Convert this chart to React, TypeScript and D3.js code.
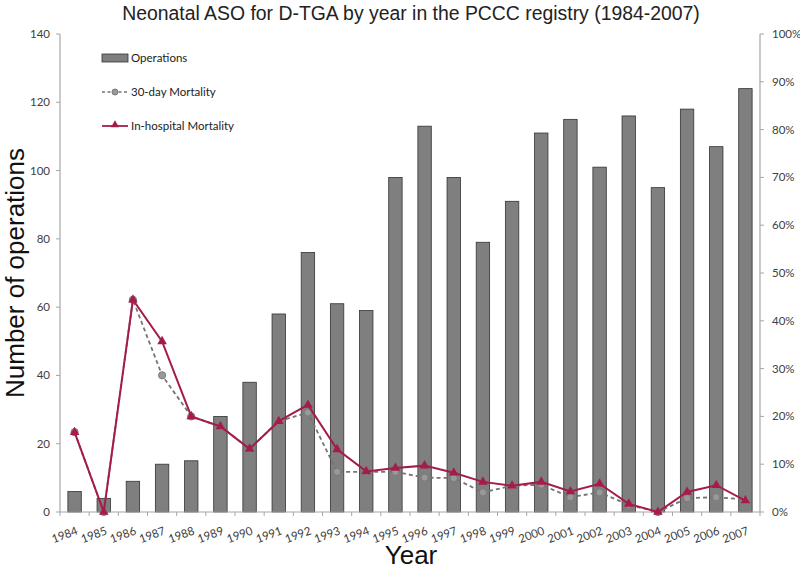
import React from "react";
import * as d3 from "d3";

const years = ["1984","1985","1986","1987","1988","1989","1990","1991","1992","1993","1994","1995","1996","1997","1998","1999","2000","2001","2002","2003","2004","2005","2006","2007"];
const operations = [6,4,9,14,15,28,38,58,76,61,59,98,113,98,79,91,111,115,101,116,95,118,107,124];
const mortality30 = [16.7,0,44.4,28.6,20,17.9,13.2,19,20.8,8.4,8.4,8.4,7.2,7.1,4.1,5.5,5.7,3.1,4.1,1.5,0,2.9,3.1,2.6];
const mortalityHosp = [16.7,0,44.4,35.7,20,17.9,13.2,19,22.4,13.1,8.5,9.2,9.7,8.2,6.3,5.5,6.3,4.3,5.9,1.7,0,4.2,5.6,2.4];
const leftTicks = [0,20,40,60,80,100,120,140];
const rightTicks = [0,10,20,30,40,50,60,70,80,90,100];

const W = 800, H = 569;
const M = { left: 60, right: 760, top: 34, bottom: 512 };
const RED = "#a51c4c";
const GRAY_LINE = "#747474";
const AXIS = "#a6a6a6";
const TXT = "#404040";
const tickFont = "Lato, 'Open Sans', sans-serif";

export default function App() {
  const x = d3.scaleBand<string>().domain(years).range([M.left, M.right]).paddingInner(0).paddingOuter(0);
  const yL = d3.scaleLinear().domain([0, 140]).range([M.bottom, M.top]);
  const yR = d3.scaleLinear().domain([0, 100]).range([M.bottom, M.top]);
  const bw = x.bandwidth() * 0.46;
  const cx = (y: string) => (x(y) as number) + x.bandwidth() / 2;

  const line30 = d3.line<number>().x((_, i) => cx(years[i])).y((d) => yR(d));
  const lineH = d3.line<number>().x((_, i) => cx(years[i])).y((d) => yR(d));
  const tri = d3.symbol().type(d3.symbolTriangle).size(40)();
  const boundaries = d3.range(years.length + 1).map((i) => M.left + i * x.bandwidth());

  return (
    <svg width={W} height={H} style={{ position: "absolute", left: 0, top: 0, background: "#fff" }}>
      <rect width={W} height={H} fill="#fff" />
      <text x={411} y={20} textAnchor="middle" fontFamily="'Liberation Sans', Arial, sans-serif" fontSize={19.4} fill="#222">
        Neonatal ASO for D-TGA by year in the PCCC registry (1984-2007)
      </text>

      {/* bars */}
      {operations.map((v, i) => (
        <rect key={years[i]} x={cx(years[i]) - bw / 2} y={yL(v)} width={bw} height={yL(0) - yL(v)} fill="#7f7f7f" stroke="#333" strokeWidth={0.8} />
      ))}

      {/* axes */}
      <line x1={M.left} x2={M.left} y1={M.top} y2={M.bottom} stroke={AXIS} strokeWidth={1.2} />
      <line x1={M.right} x2={M.right} y1={M.top} y2={M.bottom} stroke={AXIS} strokeWidth={1.2} />
      <line x1={M.left} x2={M.right} y1={M.bottom} y2={M.bottom} stroke={AXIS} strokeWidth={1.2} />
      {leftTicks.map((t) => (
        <g key={"l" + t}>
          <line x1={M.left - 4} x2={M.left} y1={yL(t)} y2={yL(t)} stroke={AXIS} />
          <text x={M.left - 10} y={yL(t) + 4} textAnchor="end" fontFamily={tickFont} fontSize={11.5} fill={TXT}>{t}</text>
        </g>
      ))}
      {rightTicks.map((t) => (
        <g key={"r" + t}>
          <line x1={M.right} x2={M.right + 4} y1={yR(t)} y2={yR(t)} stroke={AXIS} />
          <text x={M.right + 12} y={yR(t) + 4} textAnchor="start" fontFamily={tickFont} fontSize={11.5} fill={TXT}>{t + "%"}</text>
        </g>
      ))}
      {boundaries.map((b, i) => (
        <line key={"b" + i} x1={b} x2={b} y1={M.bottom} y2={M.bottom + 4} stroke={AXIS} />
      ))}
      {years.map((y) => (
        <text key={"x" + y} transform={`translate(${cx(y) + 4},${M.bottom + 22}) rotate(-20)`} textAnchor="end" fontFamily={tickFont} fontSize={11.5} fill={TXT}>{y}</text>
      ))}

      {/* lines */}
      <path d={line30(mortality30) || ""} fill="none" stroke={GRAY_LINE} strokeWidth={1.8} strokeDasharray="4,3" />
      {mortality30.map((v, i) => (
        <circle key={"c" + i} cx={cx(years[i])} cy={yR(v)} r={3.6} fill="#999" stroke="#7a7a7a" strokeWidth={1} />
      ))}
      <path d={lineH(mortalityHosp) || ""} fill="none" stroke={RED} strokeWidth={2} />
      {mortalityHosp.map((v, i) => (
        <path key={"t" + i} d={tri || ""} transform={`translate(${cx(years[i])},${yR(v)})`} fill={RED} />
      ))}

      {/* axis titles */}
      <text transform={`translate(24,${(M.top + M.bottom) / 2}) rotate(-90)`} textAnchor="middle" fontFamily="'Liberation Sans', Arial, sans-serif" fontSize={26} fill="#111">Number of operations</text>
      <text x={411} y={564} textAnchor="middle" fontFamily="'Liberation Sans', Arial, sans-serif" fontSize={26} fill="#111">Year</text>

      {/* legend */}
      <rect x={102} y={54} width={26} height={8} fill="#7f7f7f" stroke="#333" strokeWidth={0.8} />
      <text x={131} y={62} fontFamily={tickFont} fontSize={11.5} fill="#222">Operations</text>
      <line x1={102} x2={128} y1={92} y2={92} stroke={GRAY_LINE} strokeWidth={1.6} strokeDasharray="3,2.5" />
      <circle cx={115} cy={92} r={3} fill="#999" stroke="#7a7a7a" />
      <text x={131} y={96} fontFamily={tickFont} fontSize={11.5} fill="#222">30-day Mortality</text>
      <line x1={102} x2={128} y1={126} y2={126} stroke={RED} strokeWidth={1.8} />
      <path d={d3.symbol().type(d3.symbolTriangle).size(28)() || ""} transform="translate(115,125)" fill={RED} />
      <text x={131} y={130} fontFamily={tickFont} fontSize={11.5} fill="#222">In-hospital Mortality</text>
    </svg>
  );
}
